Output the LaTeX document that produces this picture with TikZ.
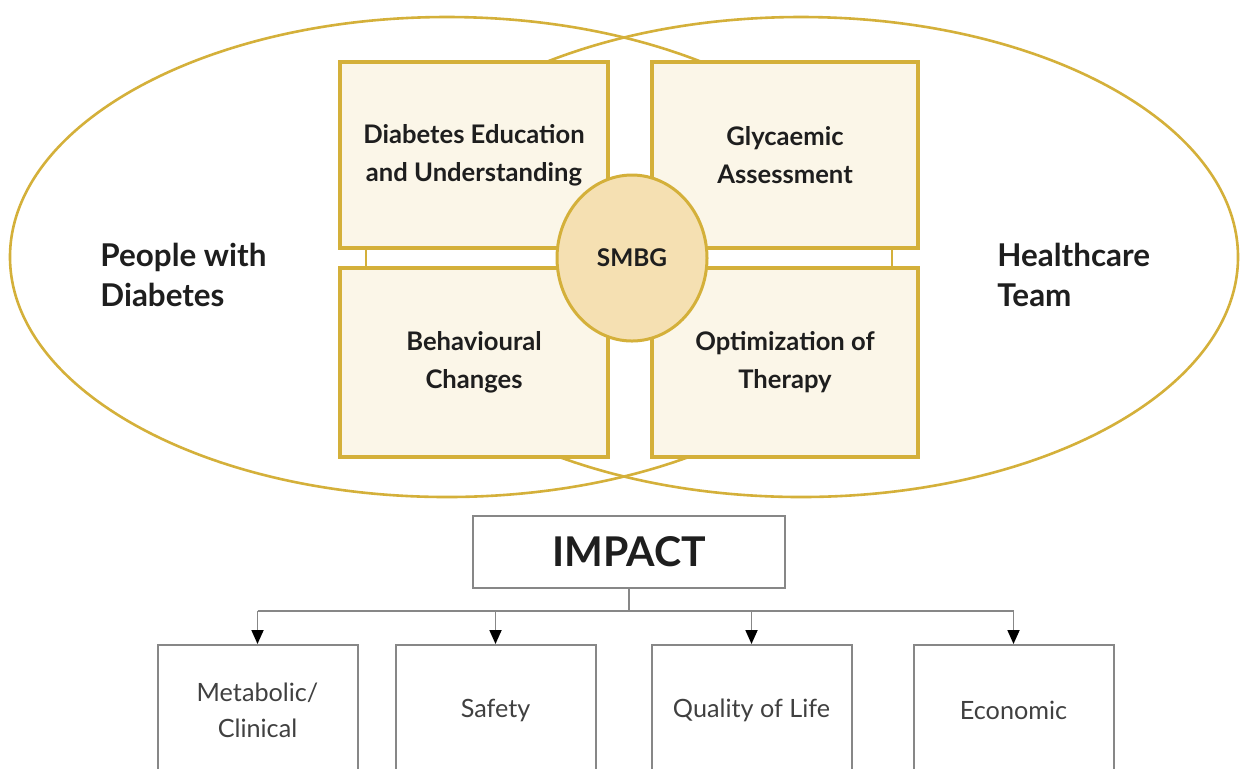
\documentclass[tikz,border=0pt]{standalone}
\usepackage{fontspec}
\setmainfont{Lato}
\usetikzlibrary{shapes.geometric,arrows.meta,calc}
\definecolor{gold}{RGB}{212,176,58}
\definecolor{cream}{RGB}{251,246,232}
\definecolor{smbgfill}{RGB}{245,224,178}
\definecolor{grayline}{RGB}{135,135,135}
\definecolor{ink}{RGB}{30,30,30}
\tikzset{
  venn/.style={ellipse, draw=gold, line width=1.3pt, minimum width=437pt, minimum height=240pt, inner sep=0pt},
  quad/.style={rectangle, draw=gold, fill=cream, line width=1.8pt, inner sep=0pt, align=center, text=ink,
    font=\bfseries\fontsize{12.8}{19}\selectfont},
  side/.style={align=left, text=ink, font=\bfseries\fontsize{15.7}{20}\selectfont, inner sep=0pt},
  smbg/.style={ellipse, draw=gold, fill=smbgfill, line width=1.5pt, minimum width=75pt, minimum height=83pt,
    inner sep=0pt, text=ink, font=\bfseries\fontsize{12.2}{14}\selectfont},
  link/.style={draw=gold, line width=1pt},
  impactbox/.style={rectangle, draw=grayline, line width=1pt, minimum width=156pt, minimum height=36pt,
    text=ink, font=\bfseries\fontsize{20.5}{22}\selectfont},
  outbox/.style={rectangle, draw=grayline, line width=1pt, minimum width=100pt, minimum height=65pt,
    align=center, text=ink!85, font=\fontsize{12.6}{18}\selectfont},
  feed/.style={draw=grayline, line width=0.9pt},
  tip/.style={feed, -{Triangle[length=7pt,width=6pt,black]}}
}
\begin{document}
\begin{tikzpicture}[x=0.5pt,y=-0.5pt]
\useasboundingbox (0,0) rectangle (1241,768);
\clip (0,0) rectangle (1241,768);
\fill[white] (0,0) rectangle (1241,768);
% Venn ellipses
\node[venn] (left) at (447,257) {};
\node[venn] (right) at (801,257) {};
% backing behind the quadrants
\fill[white] (340,62) rectangle (918,457);
% quadrants
\node[quad, minimum width=134pt, minimum height=93pt] (tl) at (474,155) {Diabetes Education\\and Understanding};
\node[quad, minimum width=133pt, minimum height=93pt] (tr) at (785,155) {Glycaemic\\Assessment};
\node[quad, minimum width=134pt, minimum height=94.5pt] (bl) at (474,362.5) {Behavioural\\Changes};
\node[quad, minimum width=133pt, minimum height=94.5pt] (br) at (785,362.5) {Optimization of\\Therapy};
% links between quadrants
\draw[link] ($(tl.south west)+(28,0)$) -- ($(bl.north west)+(28,0)$);
\draw[link] ($(tr.south east)+(-28,0)$) -- ($(br.north east)+(-28,0)$);
% centre
\node[smbg] (s) at (632,258) {SMBG};
% side labels
\node[side, anchor=west] (pwd) at (100,275) {People with\\Diabetes};
\node[side, anchor=west] (hct) at (997,275) {Healthcare\\Team};
% impact
\node[impactbox] (imp) at (629,552) {IMPACT};
\node[outbox] (m) at (257.5,710) {Metabolic/\\Clinical};
\node[outbox] (sa) at (495.5,710) {Safety};
\node[outbox] (q) at (751.5,710) {Quality of Life};
\node[outbox] (e) at (1013.5,710) {Economic};
\coordinate (split) at (629,611);
\draw[feed] (imp.south) -- (split);
\draw[feed] (m.north |- split) -- (e.north |- split);
\draw[tip] (m.north |- split) -- (m.north);
\draw[tip] (sa.north |- split) -- (sa.north);
\draw[tip] (q.north |- split) -- (q.north);
\draw[tip] (e.north |- split) -- (e.north);
\end{tikzpicture}
\end{document}
